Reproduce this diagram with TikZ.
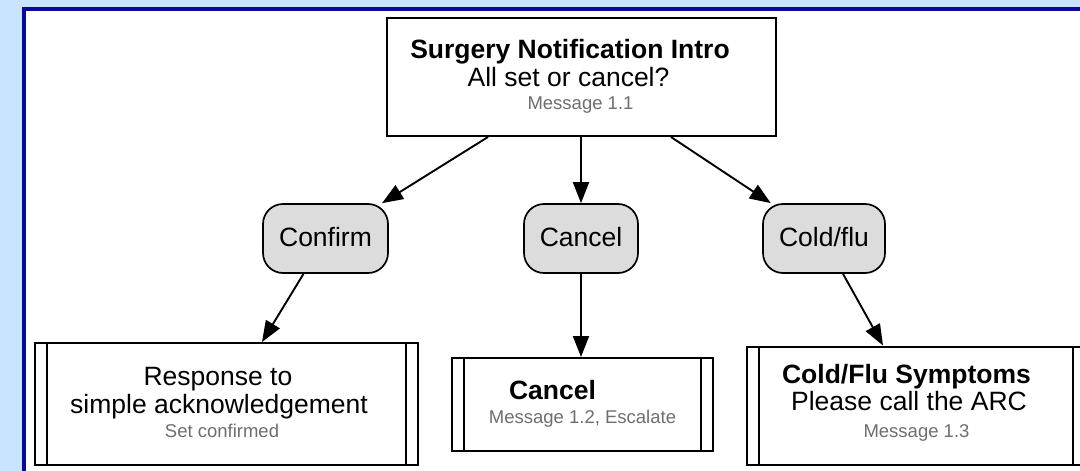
\documentclass[tikz,border=0pt]{standalone}
\usepackage{fontspec}
\setmainfont{Liberation Sans}
\usetikzlibrary{arrows.meta,calc}
\definecolor{bgblue}{RGB}{200,228,255}
\definecolor{frameblue}{RGB}{10,10,150}
\definecolor{choicegray}{RGB}{220,220,220}
\definecolor{msggray}{RGB}{110,110,110}
\tikzset{
  box/.style={draw=black, line width=2pt, fill=white, inner sep=0pt, minimum width=#1},
  choice/.style={draw=black, line width=1.7pt, fill=choicegray, rounded corners=20pt, inner sep=0pt, minimum height=69pt},
  subbox/.style={draw=black, line width=2pt, fill=white, inner sep=0pt,
    path picture={
      \draw[line width=1.6pt] ([xshift=12pt]path picture bounding box.north west) -- ([xshift=12pt]path picture bounding box.south west);
      \draw[line width=1.6pt] ([xshift=-12pt]path picture bounding box.north east) -- ([xshift=-12pt]path picture bounding box.south east);
    }},
  big/.style={anchor=base, inner sep=0pt, font=\fontsize{26.5}{30}\selectfont},
  bigb/.style={anchor=base, inner sep=0pt, font=\fontsize{26.5}{30}\selectfont\bfseries},
  small/.style={anchor=base, inner sep=0pt, text=msggray, font=\fontsize{18.5}{21}\selectfont},
  arr/.style={line width=1.9pt, -{Triangle[length=21pt,width=16pt]}},
}
\begin{document}
\begin{tikzpicture}[x=1pt,y=-1pt]
\useasboundingbox (0,0) rectangle (1080,471);
\clip (0,0) rectangle (1080,471);
\fill[bgblue] (0,0) rectangle (1080,471);
\draw[frameblue, line width=4pt, fill=white] (24,8.5) rectangle (1200,700);

% nodes
\node[box=389pt, minimum height=118pt] (intro) at (581.5,77) {};
\node[choice, minimum width=125pt] (confirm) at (325.5,238.5) {};
\node[choice, minimum width=114pt] (cancel) at (581,238.5) {};
\node[choice, minimum width=122pt] (cold) at (824,238.5) {};
\node[subbox, minimum width=383pt, minimum height=122pt] (resp) at (226.5,404) {};
\node[subbox, minimum width=261pt, minimum height=93pt] (cancelbox) at (582.5,404.5) {};
\node[subbox, minimum width=338pt, minimum height=118pt] (coldbox) at (916,405.5) {};

% texts
\node[bigb] (t1) at (570,58) {Surgery Notification Intro};
\node[big] (t2) at (568.5,86) {All set or cancel?};
\node[small] (t3) at (580.5,109) {Message 1.1};
\node[big] (c1) at (325.5,246) {Confirm};
\node[big] (c2) at (581,246) {Cancel};
\node[big] (c3) at (824,246) {Cold/flu};
\node[big] (r1) at (218,385) {Response to};
\node[big] (r2) at (219,413) {simple acknowledgement};
\node[small] (r3) at (222,437) {Set confirmed};
\node[bigb] (m1) at (552.5,399) {Cancel};
\node[small] (m2) at (582.5,423) {Message 1.2, Escalate};
\node[bigb] (f1) at (906.5,383) {Cold/Flu Symptoms};
\node[big] (f2) at (909,410) {Please call the ARC};
\node[small] (f3) at (916.5,437) {Message 1.3};

% connectors
\draw[arr] ([xshift=-93.5pt]intro.south) -- (confirm);
\draw[arr] (cancel.north |- intro.south) -- (cancel.north);
\draw[arr] ([xshift=89.5pt]intro.south) -- (cold);
\draw[arr] ([xshift=-22pt]confirm.south) -- ([xshift=35.5pt]resp.north);
\draw[arr] (cancel.south) -- (cancel.south |- cancelbox.north);
\draw[arr] ([xshift=19pt]cold.south) -- ([xshift=-33pt]coldbox.north);
\end{tikzpicture}
\end{document}
